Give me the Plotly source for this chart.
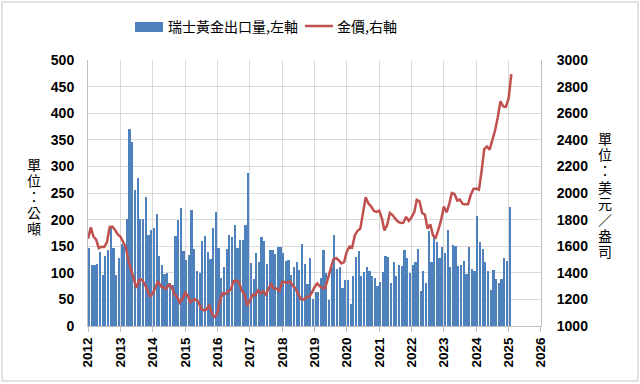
import plotly.graph_objects as go
import pandas as pd

# ---- data ----
export_start = "2012-01-01"
swiss_exports_tonnes = [
    147, 115, 115, 117, 140, 96, 131, 143, 185, 146, 95, 127,      # 2012
    154, 150, 201, 370, 345, 256, 278, 201, 201, 243, 171, 180,    # 2013
    185, 210, 131, 115, 98, 100, 81, 77, 169, 199, 222, 141,       # 2014
    124, 133, 218, 144, 103, 99, 160, 170, 140, 126, 185, 214,     # 2015
    146, 91, 111, 144, 172, 168, 190, 146, 162, 162, 190, 288,     # 2016
    118, 88, 137, 121, 167, 160, 117, 143, 143, 135, 148, 148,     # 2017
    137, 123, 124, 96, 111, 121, 105, 154, 117, 79, 127, 50,       # 2018
    63, 63, 90, 142, 100, 48, 111, 172, 108, 110, 71, 86,          # 2019
    86, 41, 94, 130, 141, 94, 101, 110, 104, 94, 90, 75,           # 2020
    82, 101, 132, 129, 80, 121, 94, 115, 112, 143, 127, 99,        # 2021
    115, 121, 144, 66, 104, 81, 179, 121, 168, 158, 127, 148,      # 2022
    138, 180, 111, 152, 150, 113, 115, 123, 98, 149, 108, 104,     # 2023
    206, 157, 144, 121, 104, 68, 105, 88, 81, 88, 127, 122,        # 2024
    224,                                                           # 2025
]
gold_price_usd = [
    1656, 1742, 1673, 1650, 1585, 1596, 1594, 1630, 1744, 1747, 1722, 1688,
    1671, 1627, 1593, 1487, 1414, 1343, 1286, 1347, 1349, 1316, 1275, 1225,
    1244, 1300, 1336, 1299, 1288, 1279, 1311, 1296, 1239, 1222, 1176, 1200,
    1251, 1227, 1179, 1198, 1199, 1181, 1131, 1117, 1125, 1159, 1086, 1068,
    1097, 1200, 1246, 1242, 1260, 1276, 1337, 1341, 1326, 1267, 1238, 1152,
    1192, 1234, 1231, 1266, 1246, 1260, 1236, 1283, 1315, 1280, 1282, 1265,
    1331, 1331, 1325, 1335, 1303, 1282, 1238, 1202, 1199, 1215, 1221, 1250,
    1292, 1320, 1300, 1285, 1284, 1359, 1413, 1500, 1511, 1495, 1471, 1480,
    1560, 1597, 1591, 1683, 1715, 1732, 1847, 1968, 1921, 1900, 1866, 1858,
    1867, 1808, 1718, 1760, 1850, 1834, 1807, 1785, 1775, 1777, 1821, 1790,
    1817, 1856, 1948, 1937, 1849, 1836, 1733, 1764, 1681, 1665, 1726, 1798,
    1898, 1855, 1912, 2000, 1992, 1943, 1951, 1918, 1916, 1916, 1985, 2031,
    2034, 2025, 2159, 2331, 2350, 2326, 2398, 2470, 2570, 2690, 2651, 2648,
    2709, 2894,
]
year_ticks = list(range(2012, 2027))
bar_name = "瑞士黃金出口量,左軸"
line_name = "金價,右軸"
left_title = "單位：公噸"
right_title = "單位：美元／盎司"

export_dates = pd.date_range(export_start, periods=len(swiss_exports_tonnes), freq="MS")
gold_dates = pd.date_range(export_start, periods=len(gold_price_usd), freq="MS")

BAR_COLOR = "#4F81BD"
LINE_COLOR = "#C0504D"
GRID = "#D9D9D9"
FONT = "Liberation Sans"
CJK = "Noto Sans CJK TC"

W, H = 640, 384
L, R, T, B = 88, 99, 60, 58
PW, PH = W - L - R, H - T - B

def px(x):
    return (x - L) / PW

def py(y):
    return (H - B - y) / PH

fig = go.Figure()
fig.add_trace(go.Bar(
    x=export_dates, y=swiss_exports_tonnes, name=bar_name,
    marker=dict(color=BAR_COLOR, line=dict(width=0)),
    width=25 * 86400000, offset=0, yaxis="y", showlegend=False,
))
fig.add_trace(go.Scatter(
    x=gold_dates, y=gold_price_usd, name=line_name, mode="lines",
    line=dict(color=LINE_COLOR, width=2.5), yaxis="y2", showlegend=False,
))

tickfont = dict(family=FONT, size=14, color="#000000", weight="bold")

fig.update_layout(
    width=W, height=H,
    margin=dict(l=L, r=R, t=T, b=B, pad=0),
    paper_bgcolor="white", plot_bgcolor="white",
    bargap=0,
    xaxis=dict(
        type="date",
        range=["2011-12-31", "2026-01-02"],
        tickmode="array",
        tickvals=[f"{y}-01-01" for y in year_ticks],
        ticktext=[str(y) for y in year_ticks],
        tickangle=-90,
        tickfont=dict(family=FONT, size=13.5, color="#000000", weight="bold"),
        showgrid=True, gridcolor=GRID, gridwidth=1,
        showline=True, linecolor="#BFBFBF", linewidth=1,
        ticks="outside", ticklen=5, tickcolor="#BFBFBF",
        zeroline=False,
    ),
    yaxis=dict(
        range=[0, 500], dtick=50, tick0=0,
        tickfont=tickfont,
        showgrid=True, gridcolor=GRID, gridwidth=1,
        showline=True, linecolor="#BFBFBF", linewidth=1,
        ticks="", ticklabelstandoff=10,
        zeroline=False,
    ),
    yaxis2=dict(
        range=[1000, 3000], dtick=200, tick0=1000,
        overlaying="y", side="right",
        tickfont=tickfont,
        showgrid=False,
        showline=True, linecolor="#BFBFBF", linewidth=1,
        ticks="", ticklabelstandoff=12,
        zeroline=False,
    ),
    showlegend=False,
)

shapes = []
annotations = []
# chart border
shapes.append(dict(type="rect", xref="paper", yref="paper",
                   x0=px(2), x1=px(638), y0=py(381), y1=py(2),
                   line=dict(color="#D9D9D9", width=1.5), fillcolor="rgba(0,0,0,0)", layer="below"))
# custom legend
shapes.append(dict(type="rect", xref="paper", yref="paper",
                   x0=px(135), x1=px(163), y0=py(32), y1=py(22),
                   line=dict(width=0), fillcolor=BAR_COLOR))
shapes.append(dict(type="line", xref="paper", yref="paper",
                   x0=px(305), x1=px(333), y0=py(26), y1=py(26),
                   line=dict(color=LINE_COLOR, width=2.5)))
annotations.append(dict(xref="paper", yref="paper", x=px(166), y=py(26.5),
                        xanchor="left", yanchor="middle", showarrow=False,
                        text=bar_name, font=dict(family=CJK, size=14, color="#000000")))
annotations.append(dict(xref="paper", yref="paper", x=px(335), y=py(26.5),
                        xanchor="left", yanchor="middle", showarrow=False,
                        text=line_name, font=dict(family=CJK, size=14, color="#000000")))

# vertical axis titles, upright characters stacked top to bottom
def stacked(text, xc, y_first, step):
    for k, ch in enumerate(text):
        annotations.append(dict(xref="paper", yref="paper", x=px(xc), y=py(y_first + k * step),
                                xanchor="center", yanchor="middle", showarrow=False,
                                text=ch, font=dict(family=CJK, size=14, color="#000000")))

stacked(left_title, 34, 164, 16)
stacked(right_title, 605, 138, 16.2)

fig.update_layout(shapes=shapes, annotations=annotations)
fig.write_html("out.html", config={"displayModeBar": False},
               post_script="document.body.style.margin='0';")
